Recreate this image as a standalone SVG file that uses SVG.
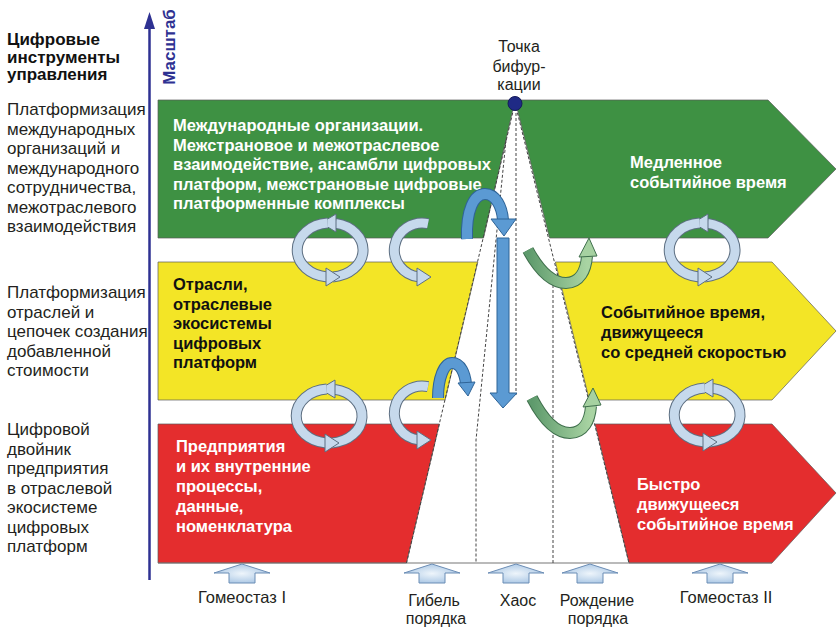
<svg xmlns="http://www.w3.org/2000/svg" width="838" height="631" viewBox="0 0 838 631">
<style>
text { font-family: "Liberation Sans", Arial, sans-serif; }
.lbl { font-size: 17px; fill: #231f20; }
.hd { font-size: 17px; font-weight: bold; fill: #111; }
.bw { font-size: 16.5px; font-weight: bold; fill: #fff; }
.bk { font-size: 16.5px; font-weight: bold; fill: #111; }
.bot { font-size: 16px; fill: #231f20; text-anchor: middle; }
.band { stroke: #5a5a5a; stroke-width: 0.7; }
.green { fill: #3e9143; }
.yellow { fill: #f3e526; }
.red { fill: #e42d2e; }
.dash { stroke: #444; stroke-width: 1; stroke-dasharray: 3 2; fill: none; }
.ro { fill: none; stroke: #5d6f82; stroke-width: 11; }
.ri { fill: none; stroke: #c6d9ec; stroke-width: 9; }
.rh { fill: #c6d9ec; stroke: #5d6f82; stroke-width: 1; stroke-linejoin: round; }
.bo { fill: none; stroke: #2f6497; stroke-width: 12; }
.bi { fill: none; stroke: #5b9ad3; stroke-width: 10; }
.bh { fill: #5b9ad3; stroke: #2f6497; stroke-width: 1; stroke-linejoin: round; }
.go { fill: none; stroke: #3f6f4c; stroke-width: 12; }
.gi { fill: none; stroke: url(#gGreen); stroke-width: 10; }
.gh { fill: #a6d1a1; stroke: #3f6f4c; stroke-width: 1; stroke-linejoin: round; }
.up { fill: url(#gUp); stroke: #6b8db5; stroke-width: 1; }
</style>
<defs>
  <radialGradient id="gUp" cx="0.5" cy="0.5" r="0.6">
    <stop offset="0" stop-color="#eef5fb"/>
    <stop offset="1" stop-color="#a3c2e2"/>
  </radialGradient>
  <linearGradient id="gGreen" x1="0" y1="0" x2="1" y2="0">
    <stop offset="0" stop-color="#5e9a6c"/>
    <stop offset="1" stop-color="#a9d4a3"/>
  </linearGradient>
  <g id="ring">
    <path class="ro" d="M2.9 26.9 A33 27 0 0 0 5.7 -26.6"/>
    <path class="ri" d="M2.9 26.9 A33 27 0 0 0 5.7 -26.6"/>
    <polygon class="rh" points="6,-36 -9,-27 6,-18"/>
    <path class="ro" d="M-2.3 -26.9 A33 27 0 0 0 -2.9 26.9"/>
    <path class="ri" d="M-2.3 -26.9 A33 27 0 0 0 -2.9 26.9"/>
    <polygon class="rh" points="-4,18 10,27 -4,36"/>
  </g>
  <g id="half">
    <path class="ro" d="M7 -26.3 A28 27 0 1 0 -2.4 26.9"/>
    <path class="ri" d="M7 -26.3 A28 27 0 1 0 -2.4 26.9"/>
    <polygon class="rh" points="-4,18 10,27 -4,36"/>
  </g>
  <polygon id="uparrow" class="up" points="0,0 28,9 13,9 13,19 -13,19 -13,9 -28,9"/>
</defs>

<!-- axis -->
<g id="axis">
  <line x1="149.5" y1="580" x2="149.5" y2="28" stroke="#2e3192" stroke-width="2.5"/>
  <polygon points="144,29 149.5,12 155,29" fill="#2e3192"/>
  <text transform="translate(175,47) rotate(-90)" text-anchor="middle" style="font-size:17px;font-weight:bold;fill:#2e3192">Масштаб</text>
</g>

<!-- left column -->
<g id="title">
  <text class="hd" x="7" y="45">Цифровые</text>
  <text class="hd" x="7" y="62.5">инструменты</text>
  <text class="hd" x="7" y="80">управления</text>
</g>
<g id="level1">
  <text class="lbl" x="7" y="115">Платформизация</text>
  <text class="lbl" x="7" y="134.5">международных</text>
  <text class="lbl" x="7" y="154">организаций и</text>
  <text class="lbl" x="7" y="173.5">международного</text>
  <text class="lbl" x="7" y="193">сотрудничества,</text>
  <text class="lbl" x="7" y="212.5">межотраслевого</text>
  <text class="lbl" x="7" y="232">взаимодействия</text>
</g>
<g id="level2">
  <text class="lbl" x="7" y="298">Платформизация</text>
  <text class="lbl" x="7" y="317.5">отраслей и</text>
  <text class="lbl" x="7" y="337">цепочек создания</text>
  <text class="lbl" x="7" y="356.5">добавленной</text>
  <text class="lbl" x="7" y="376">стоимости</text>
</g>
<g id="level3">
  <text class="lbl" x="7" y="435">Цифровой</text>
  <text class="lbl" x="7" y="454.5">двойник</text>
  <text class="lbl" x="7" y="474">предприятия</text>
  <text class="lbl" x="7" y="493.5">в отраслевой</text>
  <text class="lbl" x="7" y="513">экосистеме</text>
  <text class="lbl" x="7" y="532.5">цифровых</text>
  <text class="lbl" x="7" y="552">платформ</text>
</g>

<!-- bands -->
<g id="green-left">
  <polygon class="band green" points="158,100 515,100 483.5,238 158,238"/>
  <text class="bw" x="173" y="131">Международные организации.</text>
  <text class="bw" x="173" y="150.5">Межстрановое и межотраслевое</text>
  <text class="bw" x="173" y="170">взаимодействие, ансамбли цифровых</text>
  <text class="bw" x="173" y="189.5">платформ, межстрановые цифровые</text>
  <text class="bw" x="173" y="209">платформенные комплексы</text>
</g>
<g id="green-right">
  <polygon class="band green" points="515,100 768,100 836,169 768,238 549.6,238"/>
  <text class="bw" x="630" y="168">Медленное</text>
  <text class="bw" x="630" y="187.5">событийное время</text>
</g>
<g id="yellow-left">
  <polygon class="band yellow" points="158,262 477.8,262 445.1,400 158,400"/>
  <text class="bk" x="173" y="290">Отрасли,</text>
  <text class="bk" x="173" y="309.5">отраслевые</text>
  <text class="bk" x="173" y="329">экосистемы</text>
  <text class="bk" x="173" y="348.5">цифровых</text>
  <text class="bk" x="173" y="368">платформ</text>
</g>
<g id="yellow-right">
  <polygon class="band yellow" points="555.4,262 772,262 836,331 772,400 589.3,400"/>
  <text class="bk" x="601" y="318">Событийное время,</text>
  <text class="bk" x="601" y="338">движущееся</text>
  <text class="bk" x="601" y="358">со средней скоростью</text>
</g>
<g id="red-left">
  <polygon class="band red" points="158,424 439.4,424 406.5,563 158,563"/>
  <text class="bw" x="176" y="452">Предприятия</text>
  <text class="bw" x="176" y="472">и их внутренние</text>
  <text class="bw" x="176" y="492">процессы,</text>
  <text class="bw" x="176" y="512">данные,</text>
  <text class="bw" x="176" y="531.5">номенклатура</text>
</g>
<g id="red-right">
  <polygon class="band red" points="595,424 772,424 836,493 772,563 629,563"/>
  <text class="bw" x="637" y="490">Быстро</text>
  <text class="bw" x="637" y="510">движущееся</text>
  <text class="bw" x="637" y="530">событийное время</text>
</g>

<!-- connectors -->
<g id="connectors">
  <line x1="158" y1="563" x2="772" y2="563" stroke="#777" stroke-width="1.2"/>
  <path class="dash" d="M515 103 L406.5 563"/>
  <path class="dash" d="M515 103 L629 563"/>
  <path class="dash" d="M516 103 L516 395"/>
  <path class="dash" d="M506 140 L476 440 L476 563"/>
  <path class="dash" d="M553 280 L553 563"/>

  <use href="#ring" x="330" y="250"/>
  <use href="#half" x="421" y="250"/>
  <use href="#ring" x="329" y="416"/>
  <use href="#half" x="421" y="413"/>
  <use href="#ring" x="702" y="250"/>
  <use href="#ring" x="707" y="415"/>

  <path class="bo" d="M467 239 C466 210 474 194 485 194 C496 194 502 207 503 220"/>
  <path class="bi" d="M467 239 C466 210 474 194 485 194 C496 194 502 207 503 220"/>
  <polygon class="bh" points="491,219 516,219 504,236"/>
  <polygon class="bh" points="497,238 509,238 509,393 517,393 503,408 490,393 497,393"/>

  <path class="bo" d="M438 398 C438 378 444 363 452 363 C461 363 465 374 466 384"/>
  <path class="bi" d="M438 398 C438 378 444 363 452 363 C461 363 465 374 466 384"/>
  <polygon class="bh" points="458,383 475,382 468,396"/>

  <path class="go" d="M528 250 C540 272 553 283 566 283 C580 283 586 270 587 256"/>
  <path class="gi" d="M528 250 C540 272 553 283 566 283 C580 283 586 270 587 256"/>
  <polygon class="gh" points="579,257 597,256 589,238"/>

  <path class="go" d="M532 398 C544 421 557 433 570 433 C584 433 590 420 591 406"/>
  <path class="gi" d="M532 398 C544 421 557 433 570 433 C584 433 590 420 591 406"/>
  <polygon class="gh" points="583,407 601,405 593,388"/>

  <use href="#uparrow" x="242" y="564"/>
  <use href="#uparrow" x="432" y="564"/>
  <use href="#uparrow" x="516" y="564"/>
  <use href="#uparrow" x="590" y="564"/>
  <use href="#uparrow" x="720" y="564"/>
</g>

<g id="bifurcation">
  <circle cx="515" cy="103.5" r="7" fill="#1f2a85" stroke="#141a5a" stroke-width="1"/>
  <text class="bot" x="519" y="52">Точка</text>
  <text class="bot" x="519" y="71.5">бифур-</text>
  <text class="bot" x="519" y="90">кации</text>
</g>

<g id="bottom-labels">
  <text class="bot" x="242" y="603" style="font-size:16.5px">Гомеостаз I</text>
  <text class="bot" x="434" y="606">Гибель</text>
  <text class="bot" x="436" y="624">порядка</text>
  <text class="bot" x="518" y="606">Хаос</text>
  <text class="bot" x="597" y="606">Рождение</text>
  <text class="bot" x="598" y="624">порядка</text>
  <text class="bot" x="726" y="603" style="font-size:16.5px">Гомеостаз II</text>
</g>
</svg>
